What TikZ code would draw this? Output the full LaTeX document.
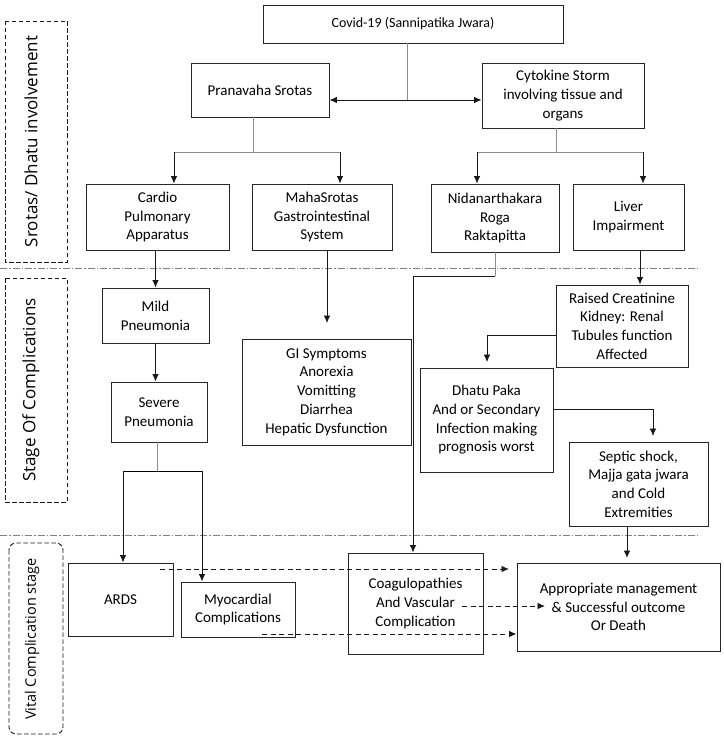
\documentclass[tikz,border=0pt]{standalone}
\usepackage{fontspec}
\setmainfont{Carlito}
\newfontfamily\stagefont{Open Sans}
\usetikzlibrary{arrows.meta}

\tikzset{
	box/.style={draw=black!85, line width=0.9pt, inner sep=0pt, align=center, font=\fontsize{15}{18.7}\selectfont},
	feed/.style={draw=black!45, line width=0.7pt},
	arr/.style={draw=black!90, line width=0.9pt, -{Latex[length=7.5pt,width=6.5pt]}},
	dblarr/.style={arr, {Latex[length=7.5pt,width=6.5pt]}-{Latex[length=7.5pt,width=6.5pt]}},
	dasharr/.style={arr, dash pattern=on 5pt off 3.5pt},
	stagebox/.style={draw=black!90, line width=0.9pt, dash pattern=on 4.5pt off 2.5pt},
	stagetext/.style={rotate=90, inner sep=0pt, font=\stagefont\fontsize{17}{20}\selectfont},
	divider/.style={draw=black!50, line width=0.7pt, dash pattern=on 7pt off 2pt on 1.5pt off 2pt},
}

\begin{document}
\begin{tikzpicture}[x=1pt, y=-1pt]
			%%%%% START %%%%%
			\useasboundingbox (0,0) rectangle (723,741);
			
			\draw[divider] (0,268) -- (700,268);
			\draw[divider] (0,535) -- (700,535);
			
			\draw[stagebox] (5,21) rectangle (67,262);
			\node[stagetext] (lblsrotas) at (31,141.5) {Srotas/ Dhatu involvement};
			\draw[stagebox] (5,278) rectangle (67,502);
			\node[stagetext] (lblstage) at (31,390) {Stage Of Complications};
			\draw[stagebox, rounded corners=7pt] (9,543) rectangle (63,734);
			\node[stagetext, font=\stagefont\fontsize{14.5}{17}\selectfont] (lblvital) at (32,639) {Vital Complication stage};
			
			\node[box, minimum width=300pt, minimum height=38pt, font=\fontsize{14}{17}\selectfont] (covid) at (413,24) {Covid-19 (Sannipatika Jwara)};
			
			\node[box, minimum width=138pt, minimum height=54pt] (prana) at (260,90) {Pranavaha Srotas};
			\node[box, minimum width=162pt, minimum height=65pt] (cyto) at (563,95.5) {Cytokine Storm\\involving tissue and\\organs};
			
			\node[box, minimum width=143pt, minimum height=66pt] (cardio) at (157.5,217) {Cardio\\Pulmonary\\Apparatus};
			\node[box, minimum width=140pt, minimum height=66pt] (maha) at (322,217) {MahaSrotas\\Gastrointestinal\\System};
			\node[box, minimum width=128pt, minimum height=68pt] (nidan) at (495,218) {Nidanarthakara\\Roga\\Raktapitta};
			\node[box, minimum width=111pt, minimum height=66pt] (liver) at (628.5,217) {Liver\\Impairment};
			
			\node[box, minimum width=107pt, minimum height=55pt] (mild) at (155.5,315.5) {Mild\\Pneumonia};
			\node[box, minimum width=96pt, minimum height=60pt] (severe) at (159,412) {Severe\\Pneumonia};
			\node[box, minimum width=169pt, minimum height=106pt] (gi) at (326.5,392) {GI Symptoms\\Anorexia\\Vomitting\\Diarrhea\\Hepatic Dysfunction};
			\node[box, minimum width=132pt, minimum height=82pt] (raised) at (622,326) {Raised Creatinine\\Kidney: Renal\\Tubules function\\Affected};
			\node[box, minimum width=133pt, minimum height=104pt] (dhatu) at (486.5,420) {Dhatu Paka\\And or Secondary\\Infection making\\prognosis worst};
			\node[box, minimum width=139pt, minimum height=84pt] (septic) at (638.5,484) {Septic shock,\\Majja gata jwara\\and Cold\\Extremities};
			
			\node[box, minimum width=105pt, minimum height=73pt] (ards) at (120.5,599.5) {ARDS};
			\node[box, minimum width=114pt, minimum height=55pt] (myo) at (238,609.5) {Myocardial\\Complications};
			\node[box, minimum width=135pt, minimum height=101pt] (coag) at (415.5,603.5) {Coagulopathies\\And Vascular\\Complication};
			\node[box, minimum width=203pt, minimum height=88pt] (appr) at (618.5,607) {Appropriate management\\\& Successful outcome\\Or Death};
			
			% top split
			\coordinate (hub) at (407,100);
			\draw[feed] (covid.south -| hub) -- (hub);
			\draw[dblarr] (prana.east |- hub) -- (cyto.west |- hub);
			
			\coordinate (pb) at (253,152);
			\coordinate (pbl) at (174,152);
			\coordinate (pbr) at (340,152);
			\draw[feed] (prana.south -| pb) -- (pb);
			\draw[feed] (pbl) -- (pbr);
			\draw[arr] (pbl) -- (pbl |- cardio.north);
			\draw[arr] (pbr) -- (pbr |- maha.north);
			
			\coordinate (cb) at (556,152);
			\coordinate (cbl) at (477,152);
			\coordinate (cbr) at (643,152);
			\draw[feed] (cyto.south -| cb) -- (cb);
			\draw[feed] (cbl) -- (cbr);
			\draw[arr] (cbl) -- (cbl |- nidan.north);
			\draw[arr] (cbr) -- (cbr |- liver.north);
			
			% complications
			\draw[arr] (mild.north |- cardio.south) -- (mild.north);
			\draw[arr] (mild.south) -- (mild.south |- severe.north);
			
			\coordinate (sb) at (157,471);
			\coordinate (sbl) at (123,471);
			\coordinate (sbr) at (202,471);
			\draw[feed] (severe.south -| sb) -- (sb);
			\draw[line width=0.7pt] (sbl) -- (sbr);
			\draw[arr] (sbl) -- (sbl |- ards.north);
			\draw[arr] (sbr) -- (sbr |- myo.north);
			
			\coordinate (mg) at (327,323);
			\draw[arr] (maha.south -| mg) -- (mg);
			
			\coordinate (nb) at (495,276);
			\coordinate (nbl) at (413,276);
			\draw[feed] (nidan.south) -- (nb);
			\draw[arr] (nb) -- (nbl) -- (nbl |- coag.north);
			
			\coordinate (lr) at (640,250);
			\draw[arr] (lr) -- (lr |- raised.north);
			
			\coordinate (rd) at (556,335);
			\coordinate (rdc) at (487,362);
			\draw[arr, line width=0.7pt] (rd) -| (rdc);
			
			\coordinate (ds) at (553,409);
			\coordinate (dsc) at (653,436);
			\draw[arr, line width=0.7pt] (ds) -| (dsc);
			
			\coordinate (sa) at (627,526);
			\coordinate (sac) at (627,558);
			\draw[arr] (sa) -- (sac);
			
			% outcome
			\coordinate (da) at (160,569);
			\coordinate (dae) at (509,569);
			\draw[dasharr] (da) -- (dae);
			\coordinate (dc) at (462,606);
			\coordinate (dce) at (545,606);
			\draw[dasharr] (dc) -- (dce);
			\coordinate (dm) at (262,634);
			\draw[dasharr] (dm) -- (dm -| appr.west);
			
			%%%%% END %%%%%
		\end{tikzpicture}
\end{document}
